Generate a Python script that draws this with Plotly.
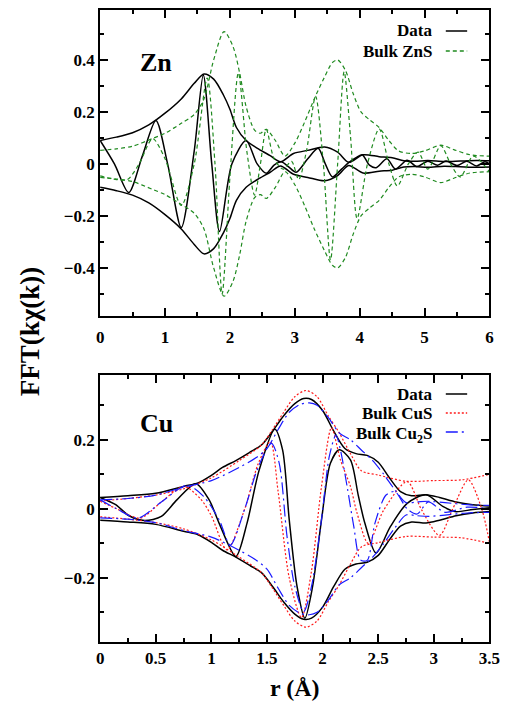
import plotly.graph_objects as go

# ---------------- Zn K-edge: r (Å) and FFT values ----------------
zn_data_mag_r = [0, 0.25, 0.5, 0.75, 1.0, 1.25, 1.45, 1.6, 1.75, 1.9, 2.0, 2.1, 2.25,
                 2.45, 2.62, 2.78, 2.98, 3.2, 3.46, 3.66, 3.83, 4.05, 4.3, 4.5, 4.68,
                 4.85, 5.05, 5.3, 5.55, 5.8, 6.0]
zn_data_mag = [0.090, 0.103, 0.120, 0.150, 0.195, 0.250, 0.310, 0.346, 0.326, 0.265,
               0.210, 0.140, 0.090, 0.056, 0.032, 0.008, 0.040, 0.052, 0.065, 0.045,
               0.006, 0.035, 0.028, 0.024, 0.012, 0.010, 0.013, 0.009, 0.011, 0.013, 0.012]

zn_data_re_r = [0, 0.22, 0.44, 0.65, 0.86, 1.04, 1.25, 1.45, 1.59, 1.72, 1.84, 2.03,
                2.25, 2.42, 2.56, 2.68, 2.79, 2.9, 3.02, 3.2, 3.36, 3.47, 3.58, 3.72,
                3.83, 3.95, 4.04, 4.15, 4.25, 4.42, 4.55, 4.73, 4.88, 5.05, 5.2, 5.33,
                5.5, 5.65, 5.8, 5.93, 6.0]
zn_data_re = [0.090, 0.0, -0.110, 0.030, 0.167, 0.0, -0.245, 0.050, 0.342, 0.0, -0.260,
              0.0, 0.090, 0.0, -0.036, -0.005, 0.008, -0.010, -0.032, 0.020, 0.060, 0.0,
              -0.050, -0.020, 0.005, 0.025, 0.035, -0.005, -0.015, 0.020, -0.020, 0.014,
              -0.010, 0.010, -0.005, 0.011, -0.006, 0.010, -0.008, 0.008, 0.0]

zns_mag_r = [0, 0.25, 0.5, 0.8, 1.0, 1.25, 1.45, 1.6, 1.75, 1.91, 2.05, 2.15, 2.25,
             2.38, 2.47, 2.56, 2.7, 2.85, 3.0, 3.15, 3.3, 3.45, 3.58, 3.66, 3.78, 3.9,
             4.02, 4.15, 4.3, 4.45, 4.6, 4.8, 5.0, 5.25, 5.45, 5.7, 6.0]
zns_mag = [0.052, 0.058, 0.068, 0.097, 0.118, 0.156, 0.190, 0.250, 0.400, 0.509, 0.450,
           0.350, 0.220, 0.130, 0.118, 0.133, 0.090, 0.030, 0.080, 0.160, 0.250, 0.330,
           0.390, 0.400, 0.360, 0.270, 0.200, 0.170, 0.140, 0.090, 0.050, 0.040, 0.050,
           0.072, 0.055, 0.035, 0.030]

zns_re_r = [0, 0.2, 0.42, 0.6, 0.81, 1.0, 1.25, 1.45, 1.65, 1.77, 1.88, 2.0, 2.13, 2.26,
            2.38, 2.47, 2.56, 2.68, 2.82, 2.95, 3.06, 3.18, 3.32, 3.44, 3.55, 3.66, 3.76,
            3.86, 3.96, 4.12, 4.3, 4.45, 4.58, 4.75, 4.9, 5.05, 5.25, 5.4, 5.55, 5.75, 6.0]
zns_re = [-0.046, -0.058, -0.060, 0.0, 0.097, 0.020, -0.160, 0.0, 0.330, 0.0, -0.500,
          -0.050, 0.350, 0.050, -0.120, 0.0, 0.133, 0.020, -0.020, 0.010, -0.060, 0.050,
          0.260, 0.0, -0.370, 0.0, 0.355, 0.100, -0.210, 0.0, 0.135, 0.0, -0.085, 0.0,
          0.045, -0.020, 0.070, 0.0, -0.050, 0.030, -0.030]

# ---------------- Cu K-edge ----------------
cu_data_mag_r = [0, 0.25, 0.5, 0.75, 0.88, 1.0, 1.1, 1.22, 1.35, 1.45, 1.55, 1.65, 1.75,
                 1.83, 1.9, 2.0, 2.1, 2.2, 2.3, 2.4, 2.5, 2.6, 2.7, 2.8, 2.93, 3.05,
                 3.2, 3.35, 3.5]
cu_data_mag = [0.033, 0.038, 0.045, 0.065, 0.075, 0.097, 0.120, 0.140, 0.165, 0.185,
               0.225, 0.270, 0.305, 0.320, 0.317, 0.285, 0.225, 0.175, 0.160, 0.155,
               0.135, 0.090, 0.050, 0.038, 0.041, 0.033, 0.020, 0.012, 0.008]

cu_data_re_r = [0, 0.14, 0.26, 0.40, 0.55, 0.69, 0.86, 0.98, 1.07, 1.22, 1.32, 1.43,
                1.57, 1.64, 1.70, 1.77, 1.84, 1.91, 1.99, 2.07, 2.15, 2.25, 2.32, 2.38,
                2.48, 2.61, 2.76, 2.93, 3.08, 3.19, 3.35, 3.5]
cu_data_re = [0.033, 0.012, -0.020, -0.034, -0.022, 0.026, 0.073, 0.026, -0.042,
              -0.138, -0.042, 0.113, 0.231, 0.171, -0.032, -0.225, -0.317, -0.225,
              -0.032, 0.132, 0.171, 0.142, 0.040, -0.042, -0.128, -0.051, 0.016, 0.041,
              0.007, -0.008, -0.002, 0.003]

cus_mag_r = [0, 0.25, 0.5, 0.75, 1.0, 1.25, 1.45, 1.55, 1.65, 1.75, 1.85, 1.95, 2.05,
             2.15, 2.25, 2.35, 2.5, 2.75, 3.0, 3.25, 3.5]
cus_mag = [0.023, 0.030, 0.040, 0.058, 0.090, 0.140, 0.185, 0.230, 0.280, 0.325, 0.343,
           0.325, 0.270, 0.220, 0.160, 0.110, 0.098, 0.080, 0.082, 0.084, 0.100]

cus_re_r = [0, 0.15, 0.36, 0.55, 0.75, 0.9, 1.0, 1.14, 1.3, 1.42, 1.53, 1.6, 1.7, 1.81,
            1.9, 1.99, 2.08, 2.16, 2.25, 2.31, 2.41, 2.55, 2.76, 2.89, 3.05, 3.17, 3.31,
            3.43, 3.5]
cus_re = [0.022, 0.0, -0.027, 0.020, 0.065, 0.030, -0.020, -0.119, 0.0, 0.130, 0.195,
          0.050, -0.200, -0.315, -0.180, 0.065, 0.235, 0.142, 0.065, -0.013, -0.100,
          -0.003, 0.079, -0.003, -0.077, 0.0, 0.084, 0.0, -0.098]

cu2s_mag_r = [0, 0.25, 0.5, 0.75, 1.0, 1.25, 1.4, 1.5, 1.6, 1.7, 1.8, 1.88, 1.95, 2.05,
              2.15, 2.25, 2.35, 2.45, 2.55, 2.65, 2.75, 2.85, 2.95, 3.1, 3.3, 3.5]
cu2s_mag = [0.026, 0.030, 0.040, 0.063, 0.082, 0.120, 0.148, 0.175, 0.230, 0.280, 0.303,
            0.307, 0.300, 0.265, 0.220, 0.200, 0.170, 0.140, 0.100, 0.055, 0.018, 0.020,
            0.022, 0.018, 0.012, 0.010]

cu2s_re_r = [0, 0.15, 0.34, 0.55, 0.78, 0.93, 1.07, 1.17, 1.3, 1.42, 1.54, 1.61, 1.68,
             1.75, 1.83, 1.9, 1.99, 2.06, 2.12, 2.16, 2.22, 2.28, 2.34, 2.4, 2.47, 2.57,
             2.65, 2.76, 2.85, 2.95, 3.1, 3.3, 3.5]
cu2s_re = [0.026, 0.0, -0.027, 0.020, 0.068, 0.036, -0.032, -0.105, 0.0, 0.120, 0.190,
           0.132, -0.080, -0.225, -0.298, -0.225, -0.030, 0.152, 0.214, 0.171, 0.065,
           -0.051, -0.148, -0.150, -0.042, 0.040, 0.050, 0.000, -0.015, 0.020, -0.010,
           0.005, 0.000]

FONT = "Liberation Serif"
GREEN = "#1f8a1f"
RED = "#ff1a1a"
BLUE = "#1a1aff"
GREEN_DASH = "4px,3px"
RED_DASH = "2px,2px"
BLUE_DASH = "12px,4px,2px,4px"

fig = go.Figure()


def add_curve(x, y, color, dash, width, xa, ya):
    fig.add_trace(go.Scatter(
        x=x, y=y, mode="lines", xaxis=xa, yaxis=ya, showlegend=False,
        line=dict(color=color, dash=dash, width=width, shape="spline", smoothing=0.8),
        hoverinfo="skip"))


def add_set(mag_r, mag, re_r, re, color, dash, width, xa, ya):
    # |FFT| envelope (+ and -) and the real part
    add_curve(mag_r, mag, color, dash, width, xa, ya)
    add_curve(mag_r, [-m for m in mag], color, dash, width, xa, ya)
    add_curve(re_r, re, color, dash, width, xa, ya)


# Zn panel
add_set(zn_data_mag_r, zn_data_mag, zn_data_re_r, zn_data_re, "black", "solid", 1.5, "x", "y")
add_set(zns_mag_r, zns_mag, zns_re_r, zns_re, GREEN, GREEN_DASH, 1.2, "x", "y")

# Cu panel
add_set(cu_data_mag_r, cu_data_mag, cu_data_re_r, cu_data_re, "black", "solid", 1.5, "x2", "y2")
add_set(cus_mag_r, cus_mag, cus_re_r, cus_re, RED, RED_DASH, 1.2, "x2", "y2")
add_set(cu2s_mag_r, cu2s_mag, cu2s_re_r, cu2s_re, BLUE, BLUE_DASH, 1.2, "x2", "y2")

tickfont = dict(family=FONT, size=17, color="black", weight="bold")


def axis_style(dtick, minor_dtick, rng, domain, anchor):
    return dict(
        range=rng, domain=domain, anchor=anchor, dtick=dtick, tick0=0,
        ticks="inside", ticklen=8, tickwidth=1.5, tickcolor="black",
        minor=dict(ticks="inside", ticklen=4, tickwidth=1.5, tickcolor="black",
                   dtick=minor_dtick, tick0=0),
        showline=True, linecolor="black", linewidth=2, mirror="ticks",
        showgrid=False, zeroline=False, tickfont=tickfont,
    )


xd = [99 / 517, 500 / 517]
top_dom = [1 - 316 / 707, 1 - 10 / 707]
bot_dom = [1 - 642 / 707, 1 - 375 / 707]

xaxis_top = axis_style(1, 0.5, [0, 6], xd, "y")
xaxis_top["ticklabelstandoff"] = 5

fig.update_layout(
    width=517, height=707,
    margin=dict(l=0, r=0, t=0, b=0),
    paper_bgcolor="white", plot_bgcolor="white",
    xaxis=xaxis_top,
    yaxis=axis_style(0.2, 0.1, [-0.585, 0.592], top_dom, "x"),
    xaxis2=axis_style(0.5, 0.25, [0, 3.5], xd, "y2"),
    yaxis2=axis_style(0.2, 0.1, [-0.386, 0.388], bot_dom, "x2"),
)

ann = []
shp = []


def label(text, x, y, size, xanchor="center", angle=0):
    ann.append(dict(text=text, x=x, y=y, xref="paper", yref="paper", showarrow=False,
                    xanchor=xanchor, yanchor="middle", textangle=angle,
                    font=dict(family=FONT, size=size, color="black", weight="bold")))


def px(xp, yp):
    return xp / 517, 1 - yp / 707


# panel labels
label("Zn", *px(157, 62), 26)
label("Cu", *px(157, 424), 26)

# keys: text right-aligned, line sample to its right
legend_items = [
    ("Data", 31, 31, "black", "solid"),
    ("Bulk ZnS", 51, 51, GREEN, GREEN_DASH),
    ("Data", 394, 394, "black", "solid"),
    ("Bulk CuS", 413, 413, RED, RED_DASH),
    ("Bulk Cu<sub>2</sub>S", 435, 432, BLUE, BLUE_DASH),
]
for text, yp, yl, color, dash in legend_items:
    label(text, *px(443, yp), 17, xanchor="right")
    x0, y0 = px(455, yl)
    x1, _ = px(477, yl)
    shp.append(dict(type="line", xref="paper", yref="paper", x0=x0, x1=x1, y0=y0, y1=y0,
                    line=dict(color=color, dash=dash, width=1.5)))

# axis titles
label("FFT(kχ(k))", *px(27, 332), 27, angle=-90)
label("r (Å)", *px(300, 688), 24)

fig.update_layout(annotations=ann, shapes=shp)
fig.write_html("out.html")
